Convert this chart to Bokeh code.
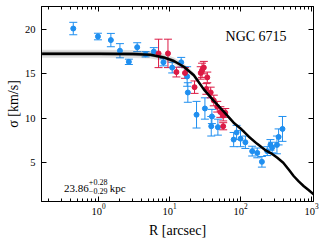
from bokeh.plotting import figure
from bokeh.models import (ColumnDataSource, Whisker, TeeHead, Label, LogAxis, LinearAxis,
                          Range1d, SingleIntervalTicker, LogTicker)
from bokeh.embed import file_html
from bokeh.resources import INLINE

# ---- model curve (R [arcsec], sigma [km/s]) and its band half-width
model_r = [0.16, 1, 3, 5.4, 8.3, 11.5, 15.9, 22, 30.4, 42, 58, 80, 100, 130, 170, 220,
           270, 330, 400, 480, 560, 660, 780, 900, 1070]
model_sigma = [17.25, 17.25, 17.22, 17.15, 16.85, 16.45, 15.8, 14.85, 13.25, 11.95, 10.75,
               9.5, 8.85, 7.95, 7.15, 6.45, 6.05, 5.55, 5.0, 4.2, 3.5, 2.9, 2.35, 1.95, 1.45]
band_hw = [0.45, 0.45, 0.45, 0.42, 0.4, 0.38, 0.35, 0.3, 0.25, 0.2, 0.15, 0.12, 0.1, 0.1,
           0.1, 0.1, 0.1, 0.1, 0.1, 0.1, 0.1, 0.1, 0.1, 0.1, 0.1]

# ---- blue data set
blue_r = [0.44, 0.98, 1.49, 2.0, 2.67, 3.5, 4.6, 6.0, 8.2, 10.9, 14.6, 17.7, 18.1, 24.0,
          31.5, 38.7, 39.5, 48.0, 80, 88, 100, 117, 146, 172, 200, 238, 264, 279, 326,
          344, 390]
blue_sigma = [20.1, 19.2, 18.8, 17.6, 16.35, 18.0, 17.2, 17.5, 16.3, 15.7, 16.3, 14.7, 12.9,
              10.4, 11.1, 9.1, 10.2, 9.0, 7.6, 8.4, 7.7, 7.3, 6.3, 6.1, 5.1, 6.3, 7.0, 6.7,
              7.0, 7.9, 8.8]
blue_err = [0.7, 0.37, 0.75, 0.8, 0.3, 0.5, 0.3, 0.45, 0.4, 0.6, 0.55, 1.1, 1.1, 1.5, 1.2,
            1.1, 0.8, 0.9, 0.8, 0.8, 0.9, 0.7, 0.55, 0.55, 0.6, 0.5, 0.6, 0.6, 1.0, 0.9, 1.4]

# ---- red data set
red_r = [7.0, 9.5, 12.5, 16.5, 22.5, 27.5, 28.7, 30.4, 33.0, 34.0, 38.0, 42.0, 47.0, 52.0,
         57.0, 61.0, 57.0]
red_sigma = [17.3, 17.3, 15.2, 15.1, 13.5, 15.1, 15.4, 15.7, 13.3, 14.6, 12.9, 12.0, 11.3,
             10.7, 10.3, 10.6, 9.1]
red_err = [1.6, 1.6, 0.55, 0.6, 0.7, 0.7, 0.8, 0.7, 0.6, 0.6, 0.6, 0.6, 0.6, 0.6, 0.6, 0.5,
           0.4]

SERIF = "Liberation Serif"
BLUE = "#1f8ff0"
RED = "#dc1a44"

p = figure(width=320, height=240, x_axis_type="log",
           x_range=Range1d(0.157, 1067), y_range=Range1d(0.63, 22.58),
           output_backend="svg", toolbar_location=None,
           min_border_left=41, min_border_right=7, min_border_top=6, min_border_bottom=38)
p.xgrid.visible = False
p.ygrid.visible = False
p.outline_line_color = "black"
p.outline_line_width = 1
p.background_fill_color = "white"
p.border_fill_color = "white"

# band + points + curve
lo1 = [s - h for s, h in zip(model_sigma, band_hw)]
hi1 = [s + h for s, h in zip(model_sigma, band_hw)]
lo2 = [s - h * 0.5 for s, h in zip(model_sigma, band_hw)]
hi2 = [s + h * 0.5 for s, h in zip(model_sigma, band_hw)]
p.varea(x=model_r, y1=lo1, y2=hi1, fill_color="black", fill_alpha=0.12)
p.varea(x=model_r, y1=lo2, y2=hi2, fill_color="black", fill_alpha=0.25)

def errset(r, s, e, color):
    src = ColumnDataSource(dict(x=r, y=s,
                                lo=[a - b for a, b in zip(s, e)],
                                hi=[a + b for a, b in zip(s, e)]))
    w = Whisker(base="x", upper="hi", lower="lo", source=src, dimension="height",
                line_color=color, line_width=1,
                upper_head=TeeHead(size=8, line_color=color, line_width=1),
                lower_head=TeeHead(size=8, line_color=color, line_width=1))
    p.add_layout(w)
    p.scatter("x", "y", source=src, size=5, fill_color=color, line_color=color)

errset(blue_r, blue_sigma, blue_err, BLUE)
errset(red_r, red_sigma, red_err, RED)

p.line(model_r, model_sigma, line_color="black", line_width=2.5)

# axes
def style(ax, labels=True):
    ax.axis_line_color = "black"
    ax.major_tick_in = 5
    ax.major_tick_out = 0
    ax.minor_tick_in = 3
    ax.minor_tick_out = 0
    ax.major_tick_line_color = "black"
    ax.minor_tick_line_color = "black"
    ax.major_label_text_font = SERIF
    ax.major_label_text_color = "black"
    if labels:
        ax.major_label_text_font_size = "10.5px"
    else:
        ax.major_label_text_font_size = "1px"
        ax.major_label_text_alpha = 0
        ax.major_label_standoff = 0

xa = p.xaxis[0]
ya = p.yaxis[0]
xa.ticker = LogTicker(num_minor_ticks=10)
ya.ticker = SingleIntervalTicker(interval=5)
style(xa)
style(ya)
ya.minor_tick_line_color = None
xa.major_label_standoff = 2
ya.major_label_standoff = 6
xa.axis_label = "R [arcsec]"
ya.axis_label = "σ [km/s]"
for ax in (xa, ya):
    ax.axis_label_text_font = SERIF
    ax.axis_label_text_font_size = "14px"
    ax.axis_label_text_font_style = "normal"
    ax.axis_label_text_color = "black"
xa.axis_label_standoff = 5
ya.axis_label_standoff = 1

top = LogAxis(ticker=LogTicker(num_minor_ticks=10))
style(top, labels=False)
p.add_layout(top, "above")
right = LinearAxis(ticker=SingleIntervalTicker(interval=5))
style(right, labels=False)
right.minor_tick_line_color = None
p.add_layout(right, "right")

# annotations
p.add_layout(Label(x=61.5, y=19.22, text="NGC 6715", text_font=SERIF,
                   text_font_size="14px", text_color="black", text_baseline="alphabetic"))
p.add_layout(Label(x=0.325, y=2.14, text="23.86", text_font=SERIF,
                   text_font_size="11px", text_color="black", text_baseline="alphabetic"))
p.add_layout(Label(x=0.73, y=2.87, text="+0.28", text_font=SERIF,
                   text_font_size="8px", text_color="black", text_baseline="alphabetic"))
p.add_layout(Label(x=0.73, y=1.83, text="\u22120.29", text_font=SERIF,
                   text_font_size="8px", text_color="black", text_baseline="alphabetic"))
p.add_layout(Label(x=1.44, y=2.17, text="kpc", text_font=SERIF,
                   text_font_size="11px", text_color="black", text_baseline="alphabetic"))

open("out.html", "w").write(file_html(p, INLINE))
